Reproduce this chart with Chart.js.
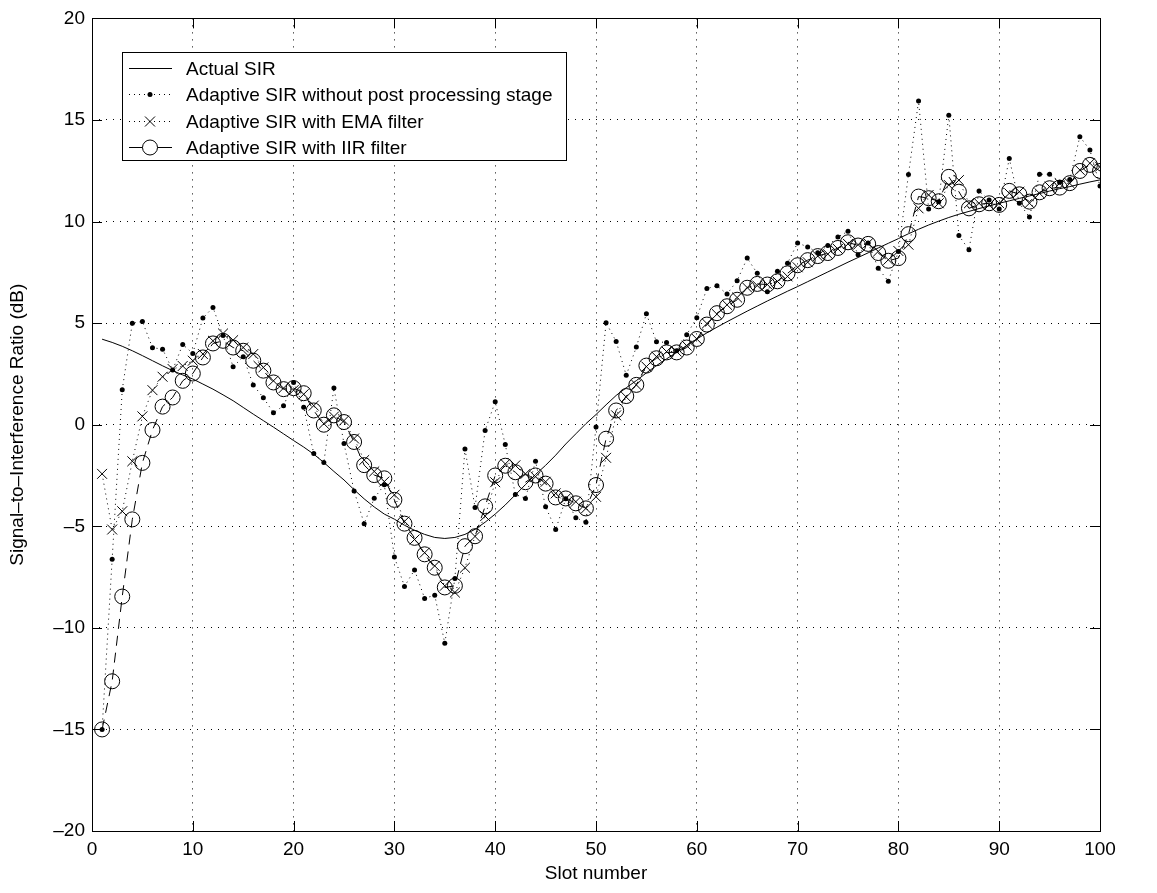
<!DOCTYPE html>
<html>
<head>
<meta charset="utf-8">
<title>Signal-to-Interference Ratio</title>
<script src="https://cdn.jsdelivr.net/npm/chart.js@4/dist/chart.umd.min.js"></script>
<style>
  html, body { margin: 0; padding: 0; background: #fff; }
  #wrap { width: 1157px; height: 893px; }
</style>
</head>
<body>
<div id="wrap"><canvas id="sirChart" width="1157" height="893"></canvas></div>
<script>
const FONT = "'Liberation Sans', Arial, Helvetica, sans-serif";
const FONT_SIZE = 19;

const slots = [
  1, 2, 3, 4, 5, 6, 7, 8, 9, 10, 11, 12, 13, 14, 15, 16, 17, 18, 19, 20,
  21, 22, 23, 24, 25, 26, 27, 28, 29, 30, 31, 32, 33, 34, 35, 36, 37, 38, 39, 40,
  41, 42, 43, 44, 45, 46, 47, 48, 49, 50, 51, 52, 53, 54, 55, 56, 57, 58, 59, 60,
  61, 62, 63, 64, 65, 66, 67, 68, 69, 70, 71, 72, 73, 74, 75, 76, 77, 78, 79, 80,
  81, 82, 83, 84, 85, 86, 87, 88, 89, 90, 91, 92, 93, 94, 95, 96, 97, 98, 99, 100
];

const actualSIR = [
  4.21, 4.05, 3.86, 3.64, 3.40, 3.15, 2.90, 2.66, 2.45, 2.25,
  2.00, 1.75, 1.47, 1.18, 0.85, 0.52, 0.20, -0.12, -0.45, -0.78,
  -1.10, -1.45, -1.86, -2.30, -2.72, -3.20, -3.65, -4.05, -4.40, -4.65,
  -4.95, -5.20, -5.40, -5.55, -5.60, -5.55, -5.40, -5.15, -4.80, -4.40,
  -3.95, -3.45, -2.95, -2.45, -2.00, -1.50, -0.95, -0.45, 0.05, 0.50,
  0.98, 1.44, 1.82, 2.17, 2.55, 2.91, 3.24, 3.56, 3.90, 4.22,
  4.52, 4.80, 5.07, 5.33, 5.59, 5.84, 6.09, 6.33, 6.57, 6.80,
  7.04, 7.28, 7.52, 7.76, 8.00, 8.23, 8.46, 8.70, 8.93, 9.16,
  9.40, 9.62, 9.83, 10.02, 10.20, 10.36, 10.50, 10.64, 10.77, 10.90,
  11.02, 11.14, 11.26, 11.38, 11.50, 11.62, 11.72, 11.84, 11.95, 12.05
];

const rawSIR = [
  -15.0, -6.62, 1.72, 5.00, 5.08, 3.79, 3.72, 2.69, 3.95, 3.51,
  5.25, 5.77, 4.39, 2.85, 3.34, 1.95, 1.33, 0.59, 0.93, 2.08,
  0.86, -1.42, -1.86, 1.81, -0.93, -3.26, -4.87, -3.62, -2.96, -6.51,
  -7.96, -7.15, -8.55, -8.39, -10.76, -7.57, -1.20, -4.07, -0.28, 1.13,
  -0.98, -3.43, -3.63, -1.80, -4.04, -5.16, -3.65, -4.58, -4.80, -0.11,
  5.02, 4.10, 2.43, 3.82, 5.46, 4.08, 4.05, 3.64, 4.43, 5.27,
  6.70, 6.84, 6.43, 7.09, 8.20, 7.45, 6.55, 7.55, 7.95, 8.95,
  8.75, 8.47, 8.82, 9.24, 9.52, 8.37, 8.95, 7.70, 7.06, 8.53,
  12.32, 15.93, 10.62, 10.98, 15.23, 9.31, 8.61, 11.50, 11.06, 10.62,
  13.10, 10.90, 10.22, 12.33, 12.33, 11.94, 12.07, 14.18, 13.52, 11.75
];

const emaSIR = [
  -2.42, -5.16, -4.26, -1.80, 0.41, 1.70, 2.36, 2.74, 2.89, 3.15,
  3.48, 4.13, 4.49, 4.16, 3.80, 3.48, 2.82, 2.16, 1.80, 1.70,
  1.50, 0.94, 0.05, 0.40, 0.20, -0.68, -1.74, -2.30, -2.80, -3.45,
  -4.76, -5.65, -6.30, -6.95, -7.93, -8.26, -7.04, -5.50, -4.50, -2.83,
  -1.93, -2.00, -2.42, -2.56, -2.81, -3.38, -3.63, -3.79, -4.12, -3.55,
  -1.63, 0.46, 1.36, 1.96, 2.86, 3.35, 3.60, 3.60, 3.89, 4.22,
  4.98, 5.44, 5.90, 6.26, 6.75, 6.85, 6.90, 7.05, 7.30, 7.75,
  8.00, 8.30, 8.40, 8.65, 8.90, 8.86, 8.94, 8.53, 8.12, 8.55,
  8.86, 10.65, 11.31, 10.90, 11.80, 12.04, 10.90, 10.90, 10.82, 10.90,
  11.39, 11.47, 10.90, 11.39, 11.72, 11.88, 11.88, 12.54, 12.87, 12.70
];

const iirSIR = [
  -15.0, -12.63, -8.46, -4.66, -1.88, -0.26, 0.89, 1.34, 2.16, 2.52,
  3.31, 4.00, 4.13, 3.80, 3.64, 3.15, 2.66, 2.08, 1.75, 1.80,
  1.55, 0.70, 0.00, 0.46, 0.13, -0.85, -1.99, -2.48, -2.64, -3.70,
  -4.87, -5.57, -6.38, -7.04, -8.01, -7.93, -5.98, -5.49, -4.02, -2.50,
  -2.02, -2.34, -2.83, -2.50, -2.90, -3.58, -3.63, -3.87, -4.12, -2.97,
  -0.69, 0.70, 1.41, 1.96, 2.91, 3.27, 3.56, 3.56, 3.80, 4.22,
  4.93, 5.49, 5.83, 6.15, 6.74, 6.93, 6.90, 7.06, 7.45, 7.85,
  8.10, 8.30, 8.45, 8.70, 8.98, 8.82, 8.90, 8.45, 8.07, 8.20,
  9.38, 11.23, 11.15, 11.00, 12.20, 11.47, 10.65, 10.85, 10.90, 10.82,
  11.51, 11.34, 10.98, 11.44, 11.64, 11.67, 11.89, 12.49, 12.79, 12.49
];

const seriesLabels = [
  'Actual SIR',
  'Adaptive SIR without post processing stage',
  'Adaptive SIR with EMA filter',
  'Adaptive SIR with IIR filter'
];

function points(values) {
  return slots.map((s, i) => ({ x: s, y: values[i] }));
}

function dashMinus(v) {
  return String(v).replace('-', '\u2013');
}

// box round the axes with inward ticks, like the original figure
const framePlugin = {
  id: 'frame',
  afterDatasetsDraw(chart) {
    const { ctx, chartArea: a, scales } = chart;
    const tl = 10;
    ctx.save();
    ctx.strokeStyle = '#000';
    ctx.lineWidth = 1;
    ctx.beginPath();
    scales.x.ticks.forEach(t => {
      const px = Math.round(scales.x.getPixelForValue(t.value)) + 0.5;
      ctx.moveTo(px, a.bottom); ctx.lineTo(px, a.bottom - tl);
      ctx.moveTo(px, a.top); ctx.lineTo(px, a.top + tl);
    });
    scales.y.ticks.forEach(t => {
      const py = Math.round(scales.y.getPixelForValue(t.value)) + 0.5;
      ctx.moveTo(a.left, py); ctx.lineTo(a.left + tl, py);
      ctx.moveTo(a.right, py); ctx.lineTo(a.right - tl, py);
    });
    ctx.stroke();
    ctx.strokeRect(Math.round(a.left) + 0.5, Math.round(a.top) + 0.5,
      Math.round(a.right - a.left), Math.round(a.bottom - a.top));
    ctx.restore();
  }
};

const legendPlugin = {
  id: 'boxLegend',
  afterDraw(chart) {
    const { ctx } = chart;
    const x0 = 122, y0 = 52, rowH = 26.3, firstRow = 68;
    const lineL = 129, lineR = 172, mid = 150, textX = 186;
    ctx.save();
    ctx.font = FONT_SIZE + 'px ' + FONT;
    const w = Math.max(...seriesLabels.map(l => ctx.measureText(l).width));
    const boxW = Math.round(textX + w + 14 - x0);
    const boxH = Math.round(firstRow + rowH * 3 + 13 - y0);
    ctx.fillStyle = '#fff';
    ctx.fillRect(x0, y0, boxW, boxH);
    ctx.strokeStyle = '#000';
    ctx.lineWidth = 1;
    ctx.strokeRect(x0 + 0.5, y0 + 0.5, boxW, boxH);

    ctx.fillStyle = '#000';
    ctx.textBaseline = 'middle';
    ctx.textAlign = 'left';
    seriesLabels.forEach((label, i) => {
      const y = Math.round(firstRow + i * rowH) + 0.5;
      ctx.beginPath();
      if (i === 0) {
        ctx.setLineDash([]);
        ctx.moveTo(lineL, y); ctx.lineTo(lineR, y);
        ctx.stroke();
      } else if (i === 1 || i === 2) {
        ctx.setLineDash([1, 4]);
        ctx.moveTo(lineL, y); ctx.lineTo(lineR, y);
        ctx.stroke();
        ctx.setLineDash([]);
        ctx.beginPath();
        if (i === 1) {
          ctx.arc(mid, y, 2.5, 0, Math.PI * 2);
          ctx.fill();
        } else {
          ctx.moveTo(mid - 5, y - 5); ctx.lineTo(mid + 5, y + 5);
          ctx.moveTo(mid - 5, y + 5); ctx.lineTo(mid + 5, y - 5);
          ctx.stroke();
        }
      } else {
        ctx.setLineDash([]);
        ctx.moveTo(lineL, y); ctx.lineTo(mid - 7.5, y);
        ctx.moveTo(mid + 7.5, y); ctx.lineTo(lineR, y);
        ctx.stroke();
        ctx.beginPath();
        ctx.arc(mid, y, 7.5, 0, Math.PI * 2);
        ctx.stroke();
      }
      ctx.fillText(label, textX, y + 1);
    });
    ctx.restore();
  }
};

const ctx = document.getElementById('sirChart').getContext('2d');
new Chart(ctx, {
  type: 'line',
  data: {
    datasets: [
      {
        label: seriesLabels[0],
        data: points(actualSIR),
        borderColor: '#000',
        borderWidth: 1,
        pointRadius: 0,
        tension: 0
      },
      {
        label: seriesLabels[1],
        data: points(rawSIR),
        borderColor: '#000',
        borderWidth: 1,
        borderDash: [1, 4],
        pointStyle: 'circle',
        pointRadius: 2.5,
        pointBorderWidth: 0,
        pointBackgroundColor: '#000',
        tension: 0
      },
      {
        label: seriesLabels[2],
        data: points(emaSIR),
        borderColor: '#000',
        borderWidth: 1,
        borderDash: [1, 4],
        pointStyle: 'crossRot',
        pointRadius: 7,
        pointBorderWidth: 1,
        pointBorderColor: '#000',
        tension: 0
      },
      {
        label: seriesLabels[3],
        data: points(iirSIR),
        borderColor: '#000',
        borderWidth: 1,
        borderDash: [10, 7],
        pointStyle: 'circle',
        pointRadius: 7.5,
        pointBorderWidth: 1,
        pointBorderColor: '#000',
        pointBackgroundColor: 'rgba(0,0,0,0)',
        tension: 0
      }
    ]
  },
  options: {
    responsive: false,
    animation: false,
    devicePixelRatio: 1,
    layout: { padding: { top: 12, right: 57, left: 0, bottom: 0 } },
    plugins: {
      legend: { display: false },
      tooltip: { enabled: false }
    },
    scales: {
      x: {
        type: 'linear',
        min: 0,
        max: 100,
        ticks: {
          stepSize: 10,
          color: '#000',
          padding: 7,
          maxRotation: 0,
          font: { family: FONT, size: FONT_SIZE },
          callback: v => dashMinus(v)
        },
        grid: { color: '#000', lineWidth: 1, drawTicks: false },
        border: { display: false, dash: [1, 6] },
        title: {
          display: true,
          text: 'Slot number',
          color: '#000',
          font: { family: FONT, size: FONT_SIZE },
          padding: { top: 0, bottom: 8 }
        },
        afterFit(scale) { scale.height = 62; }
      },
      y: {
        type: 'linear',
        min: -20,
        max: 20,
        ticks: {
          stepSize: 5,
          color: '#000',
          padding: 7,
          font: { family: FONT, size: FONT_SIZE },
          callback: v => dashMinus(v)
        },
        grid: { color: '#000', lineWidth: 1, drawTicks: false },
        border: { display: false, dash: [1, 6] },
        title: {
          display: true,
          text: 'Signal\u2013to\u2013Interference Ratio (dB)',
          color: '#000',
          font: { family: FONT, size: FONT_SIZE },
          padding: { top: 6, bottom: 0 }
        },
        afterFit(scale) { scale.width = 92; }
      }
    }
  },
  plugins: [framePlugin, legendPlugin]
});
</script>
</body>
</html>
